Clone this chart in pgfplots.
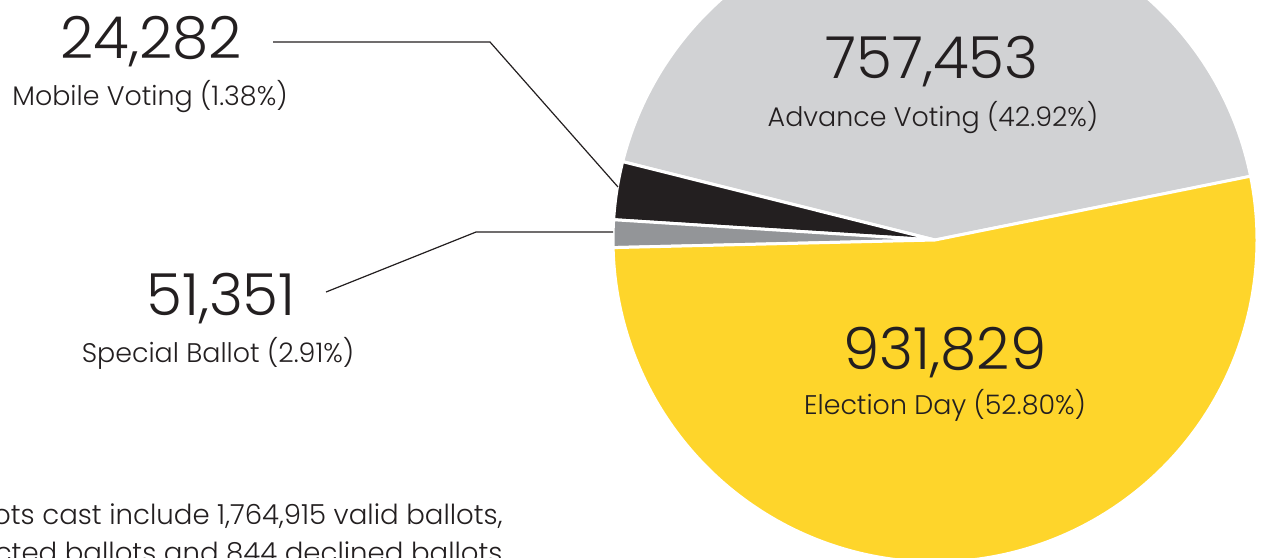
\documentclass[border=0pt]{standalone}
\usepackage{fontspec}
\IfFontExistsTF{Poppins Light}{\setmainfont{Poppins Light}}{%
 \IfFontExistsTF{Lato Light}{\setmainfont{Lato Light}}{%
  \IfFontExistsTF{Fira Sans Light}{\setmainfont{Fira Sans Light}}{\setmainfont{Poppins}}}}
\usepackage{pgfplots}
\pgfplotsset{compat=1.18}
\definecolor{edyellow}{HTML}{FED52B}
\definecolor{advgray}{HTML}{D1D2D4}
\definecolor{mobblack}{HTML}{231F20}
\definecolor{spcgray}{HTML}{939598}
\definecolor{txt}{HTML}{231F20}
\newcommand{\bignum}{\fontsize{29}{32}\selectfont}
\newcommand{\lab}{\fontsize{13.45}{16}\selectfont}
\newcommand{\foot}{\fontsize{13.8}{16}\selectfont}
\begin{document}
\begin{tikzpicture}
\useasboundingbox (0,0) rectangle (631pt,278.5pt);
\clip (0,0) rectangle (631pt,278.5pt);
% slice shares (percent) as drawn in the source chart, counter-clockwise from 11.4 deg
\pgfmathsetmacro{\sA}{11.4}
\pgfmathsetmacro{\eA}{\sA+42.92*3.6}   % Advance Voting
\pgfmathsetmacro{\eB}{\eA+2.91*3.6}    % black slice
\pgfmathsetmacro{\eC}{\eB+1.38*3.6}    % dark-grey slice
\pgfmathsetmacro{\eD}{\eC+52.80*3.6}   % Election Day
\begin{axis}[at={(0,0)}, anchor=south west, x=0.5pt, y=0.5pt, y dir=reverse,
  xmin=0, xmax=1262, ymin=0, ymax=557, hide axis, scale only axis, clip=false]
\addplot[draw=white, line width=1.5pt, line join=round, fill=advgray, domain=\sA:\eA, samples=160]
  ({935+322*cos(x)},{240-322*sin(x)}) -- (axis cs:935,240) -- cycle;
\addplot[draw=white, line width=1.5pt, line join=round, fill=mobblack, domain=\eA:\eB, samples=20]
  ({935+322*cos(x)},{240-322*sin(x)}) -- (axis cs:935,240) -- cycle;
\addplot[draw=white, line width=1.5pt, line join=round, fill=spcgray, domain=\eB:\eC, samples=10]
  ({935+322*cos(x)},{240-322*sin(x)}) -- (axis cs:935,240) -- cycle;
\addplot[draw=white, line width=1.5pt, line join=round, fill=edyellow, domain=\eC:\eD, samples=200]
  ({935+322*cos(x)},{240-322*sin(x)}) -- (axis cs:935,240) -- cycle;
% leader lines
\addplot[txt, line width=0.6pt] coordinates {(273,42) (490,42) (618,187)};
\addplot[txt, line width=0.6pt] coordinates {(326,292) (476,232) (613,232)};
% labels
\node[txt, anchor=base, inner sep=0pt] at (axis cs:151,58) {\bignum 24,282};
\node[txt, anchor=base, inner sep=0pt] at (axis cs:150,105) {\lab Mobile Voting (1.38\%)};
\node[txt, anchor=base, inner sep=0pt] at (axis cs:221,315) {\bignum 51,351};
\node[txt, anchor=base, inner sep=0pt] at (axis cs:218,362) {\lab Special Ballot (2.91\%)};
\node[txt, anchor=base, inner sep=0pt] at (axis cs:932,78) {\bignum 757,453};
\node[txt, anchor=base, inner sep=0pt] at (axis cs:933,126) {\lab Advance Voting (42.92\%)};
\node[txt, anchor=base, inner sep=0pt] at (axis cs:945,369) {\bignum 931,829};
\node[txt, anchor=base, inner sep=0pt] at (axis cs:945,414) {\lab Election Day (52.80\%)};
\node[txt, anchor=base east, inner sep=0pt] at (axis cs:503,524) {\foot Total ballots cast include 1,764,915 valid ballots,};
\node[txt, anchor=base east, inner sep=0pt] at (axis cs:508,562) {\foot rejected ballots and 844 declined ballots.};
\end{axis}
\end{tikzpicture}
\end{document}
